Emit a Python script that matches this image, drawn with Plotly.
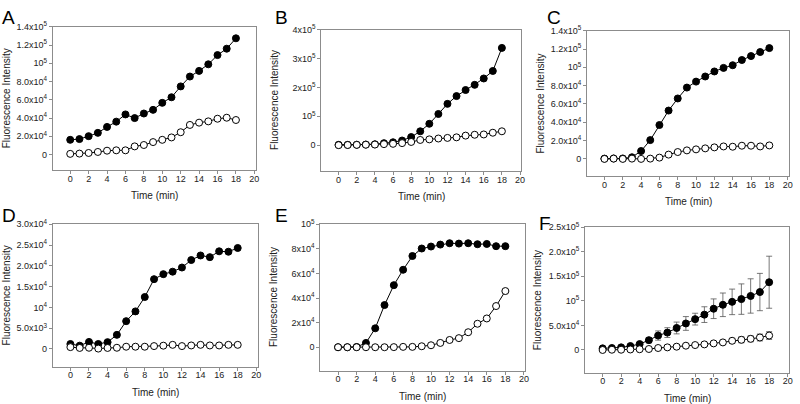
import plotly.graph_objects as go

time = list(range(19))

# Panel A
a_filled = [16.2e3, 17e3, 20.2e3, 23.8e3, 30.3e3, 36.1e3, 44e3, 40e3, 45e3, 49e3, 56.7e3, 62.8e3,
            74.7e3, 85.5e3, 91.7e3, 98.9e3, 109e3, 116e3, 127.4e3]
a_open = [0.8e3, 1.1e3, 1.8e3, 2.9e3, 4.3e3, 4.7e3, 4.7e3, 9e3, 10.5e3, 13.7e3, 16.2e3, 18.8e3,
          24.5e3, 32.5e3, 35e3, 36.4e3, 39.3e3, 40.4e3, 37.9e3]
# Panel B
b_filled = [1e3, 1e3, 1.5e3, 2e3, 3e3, 6.8e3, 10e3, 16e3, 28e3, 48e3, 74e3, 108e3, 143e3, 170e3,
            191e3, 209e3, 231e3, 257e3, 337e3]
b_open = [0, 0.5e3, 1e3, 1.5e3, 2e3, 3.5e3, 4.5e3, 7e3, 11e3, 18e3, 20e3, 23e3, 25e3, 27e3,
          33e3, 36e3, 37e3, 43e3, 48e3]
# Panel C
c_filled = [0.3e3, 0.5e3, 0.5e3, 1.8e3, 8.6e3, 20.5e3, 37e3, 52.8e3, 66e3, 77.9e3, 84.4e3, 90e3,
            95.5e3, 99.4e3, 102.3e3, 108e3, 112.3e3, 116.7e3, 121e3]
c_open = [0, 0.3e3, 0, 0.3e3, 0, 0.3e3, 1.4e3, 4.7e3, 7.5e3, 9.3e3, 10.4e3, 11.5e3, 12.6e3,
          13.6e3, 13.3e3, 14.4e3, 14.4e3, 13.6e3, 14.7e3]
# Panel D
d_filled = [1.2e3, 0.8e3, 1.7e3, 1.2e3, 1.65e3, 3.4e3, 6.7e3, 9.05e3, 12.5e3, 16.8e3, 18e3, 18.6e3,
            19.6e3, 21.4e3, 22.5e3, 22.1e3, 23.5e3, 23.4e3, 24.3e3]
d_open = [0.45e3, 0.25e3, 0.3e3, 0.1e3, 0.25e3, 0.3e3, 0.55e3, 0.55e3, 0.55e3, 0.7e3, 0.8e3, 1.0e3,
          0.7e3, 0.85e3, 1.0e3, 0.85e3, 0.85e3, 1.0e3, 1.0e3]
# Panel E
e_filled = [0, 0, 0.2e3, 3.5e3, 15.4e3, 34.3e3, 50.5e3, 63e3, 74.2e3, 80.3e3, 81.9e3, 83.5e3,
            84.6e3, 84.3e3, 84.6e3, 83.8e3, 84e3, 82.2e3, 82.2e3]
e_open = [0, 0, 0, 0, 0, 0, 0.1e3, 0.3e3, 0.3e3, 0.8e3, 1.6e3, 3.5e3, 5.9e3, 7.4e3, 12.2e3,
          19.1e3, 23.4e3, 33.5e3, 45.7e3]
# Panel F (mean +/- error)
f_filled = [3.3e3, 4e3, 5.3e3, 8e3, 12e3, 20e3, 29.4e3, 35.4e3, 44.8e3, 54e3, 62.8e3, 72e3, 84e3,
            92e3, 98e3, 103.6e3, 110e3, 118e3, 138e3]
f_filled_err = [1.5e3, 1.5e3, 1.5e3, 2e3, 3e3, 5.3e3, 9.4e3, 10e3, 12e3, 14e3, 12e3, 16e3, 20e3,
                24e3, 26e3, 31e3, 35e3, 38e3, 53e3]
f_open = [0, 0.5e3, 0.5e3, 1e3, 1.5e3, 2e3, 4e3, 5.3e3, 6.7e3, 8.7e3, 10e3, 11.4e3, 13.4e3,
          15.4e3, 18.7e3, 20.7e3, 22.7e3, 25.4e3, 29.4e3]
f_open_err = [1e3, 1e3, 1e3, 1e3, 1e3, 1.5e3, 1.5e3, 2e3, 2e3, 2.5e3, 3e3, 3e3, 3.5e3, 4e3,
              5e3, 6e3, 6e3, 7e3, 8e3]

x_ticks = list(range(0, 21, 2))
ticks_A = [0, 2e4, 4e4, 6e4, 8e4, 1e5, 1.2e5, 1.4e5]
labels_A = ["0", "2.0x10<sup>4</sup>", "4.0x10<sup>4</sup>", "6.0x10<sup>4</sup>",
            "8.0x10<sup>4</sup>", "10<sup>5</sup>", "1.2x10<sup>5</sup>", "1.4x10<sup>5</sup>"]
ticks_B = [0, 1e5, 2e5, 3e5, 4e5]
labels_B = ["0", "10<sup>5</sup>", "2x10<sup>5</sup>", "3x10<sup>5</sup>", "4x10<sup>5</sup>"]
ticks_D = [0, 5e3, 1e4, 1.5e4, 2e4, 2.5e4, 3e4]
labels_D = ["0", "5.0x10<sup>3</sup>", "10<sup>4</sup>", "1.5x10<sup>4</sup>",
            "2.0x10<sup>4</sup>", "2.5x10<sup>4</sup>", "3.0x10<sup>4</sup>"]
ticks_E = [0, 2e4, 4e4, 6e4, 8e4, 1e5]
labels_E = ["0", "2x10<sup>4</sup>", "4x10<sup>4</sup>", "6x10<sup>4</sup>",
            "8x10<sup>4</sup>", "10<sup>5</sup>"]
ticks_F = [0, 5e4, 1e5, 1.5e5, 2e5, 2.5e5]
labels_F = ["0", "5.0x10<sup>4</sup>", "10<sup>5</sup>", "1.5x10<sup>5</sup>",
            "2.0x10<sup>5</sup>", "2.5x10<sup>5</sup>"]

W, H = 800, 404
# panel: letter, filled, open, filled err, open err, yticks, ylabels, yrange, box px (l, r, t, b), letter px
panels = [
    ("A", a_filled, a_open, None, None, ticks_A, labels_A, [-17e3, 1.4e5], (53, 257, 20, 166), (9, 11)),
    ("B", b_filled, b_open, None, None, ticks_B, labels_B, [-0.9e5, 4e5], (323, 524, 23, 167), (283, 11)),
    ("C", c_filled, c_open, None, None, ticks_A, labels_A, [-1.87e4, 1.4e5], (590, 793, 24, 172), (557, 11)),
    ("D", d_filled, d_open, None, None, ticks_D, labels_D, [-4.25e3, 3e4], (53, 259, 221, 366), (9, 212)),
    ("E", e_filled, e_open, None, None, ticks_E, labels_E, [-1.9e4, 1e5], (322, 528, 221, 370), (283, 212)),
    ("F", f_filled, f_open, f_filled_err, f_open_err, ticks_F, labels_F, [-0.46e5, 2.5e5], (588, 793, 224, 372), (548, 220)),
]

fig = go.Figure()
layout = dict(
    width=W, height=H, margin=dict(l=0, r=0, t=0, b=0),
    paper_bgcolor="white", plot_bgcolor="white", showlegend=False,
    font=dict(family="Arial, Liberation Sans, sans-serif", color="#222"),
)
annotations = []
axis_color = "#8c8c8c"
tick_font = dict(size=9, color="#222", family="Arial, Liberation Sans, sans-serif")

for i, (letter, yf, yo, ef, eo, yt, yl, yr, box, lp) in enumerate(panels, start=1):
    l, r, t, b = box
    xa = "x" if i == 1 else f"x{i}"
    ya = "y" if i == 1 else f"y{i}"
    fig.add_trace(go.Scatter(
        x=time, y=yf, xaxis=xa, yaxis=ya, mode="lines+markers",
        line=dict(color="black", width=1),
        marker=dict(symbol="circle", size=7, color="black", line=dict(color="black", width=1)),
        error_y=dict(type="data", array=ef, color="#555", thickness=0.8, width=3, visible=True) if ef else None,
    ))
    fig.add_trace(go.Scatter(
        x=time, y=yo, xaxis=xa, yaxis=ya, mode="lines+markers",
        line=dict(color="black", width=1),
        marker=dict(symbol="circle", size=7, color="white", line=dict(color="black", width=1)),
        error_y=dict(type="data", array=eo, color="#555", thickness=0.8, width=3, visible=True) if eo else None,
    ))
    xkey = "xaxis" if i == 1 else f"xaxis{i}"
    ykey = "yaxis" if i == 1 else f"yaxis{i}"
    layout[xkey] = dict(
        domain=[l / W, r / W], anchor=ya, range=[-1.9, 20.15],
        tickvals=x_ticks, ticks="outside", ticklen=3, tickcolor=axis_color, tickwidth=1,
        showline=True, linecolor=axis_color, linewidth=1, mirror=True,
        showgrid=False, zeroline=False, tickfont=tick_font, ticklabelstandoff=-3,
    )
    layout[ykey] = dict(
        domain=[1 - b / H, 1 - t / H], anchor=xa, range=[yr[0], yr[1] * 1.001],
        tickvals=yt, ticktext=yl, ticks="outside", ticklen=3, tickcolor=axis_color, tickwidth=1,
        showline=True, linecolor=axis_color, linewidth=1, mirror=True,
        showgrid=False, zeroline=False, tickfont=tick_font,
    )
    # axis titles
    annotations.append(dict(
        text="Time (min)", x=(l + r) / 2 / W, y=1 - (b + 26) / H, xref="paper", yref="paper",
        showarrow=False, font=dict(size=10, color="#222"), xanchor="center", yanchor="middle",
    ))
    annotations.append(dict(
        text="Fluorescence Intensity", x=(l - 47) / W, y=1 - (t + b) / 2 / H, xref="paper",
        yref="paper", showarrow=False, textangle=-90, font=dict(size=10, color="#222"),
        xanchor="center", yanchor="middle",
    ))
    annotations.append(dict(
        text=letter, x=lp[0] / W, y=1 - lp[1] / H, xref="paper", yref="paper",
        showarrow=False, font=dict(size=19, color="black"), xanchor="center", yanchor="middle",
    ))

layout["annotations"] = annotations
fig.update_layout(**layout)
fig.write_html("out.html", config={"displayModeBar": False},
               post_script="document.body.style.margin='0';document.body.style.overflow='hidden';")
